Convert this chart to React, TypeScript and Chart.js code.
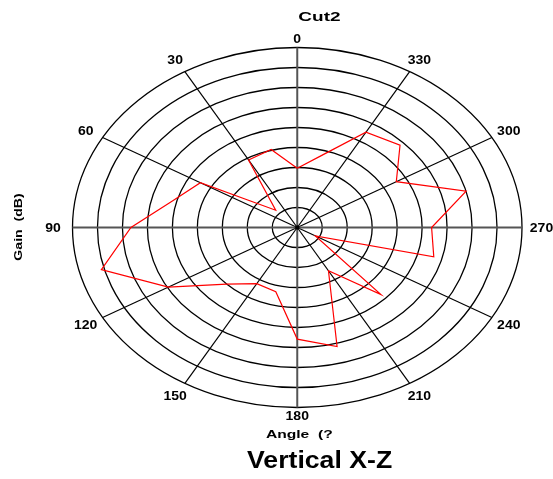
import React, { useEffect, useRef } from "react";
import { Chart, registerables } from "chart.js";

Chart.register(...registerables);

// ---- data ----
const angleDeg = [0, 15, 30, 45, 60, 75, 90, 105, 120, 135, 150, 165, 180, 195, 210, 225, 240, 255, 270, 285, 300, 315, 330, 345];
const gainDb = [-30.2, -24.8, -25.5, -38.9, -22.6, -19.2, -11.7, -4.4, -15.2, -25.0, -28.8, -28.4, -17.1, -14.2, -32.5, -21.3, -40.8, -16.7, -18.1, -10.0, -22.1, -15.9, -17.5, -26.4];
const radialMin = -45;
const radialMax = 0;
const radialStep = 5;
const spokeAngles = [0, 30, 60, 90, 120, 150, 180, 210, 240, 270, 300, 330];
const spokeLabels = ["0", "30", "60", "90", "120", "150", "180", "210", "240", "270", "300", "330"];
const chartTitle = "Cut2";
const angleAxisTitle = "Angle  (?";
const gainAxisTitle = "Gain  (dB)";
const caption = "Vertical X-Z";

const FONT = '"Liberation Sans", Arial, Helvetica, sans-serif';

function drawText(ctx: CanvasRenderingContext2D, text: string, x: number, y: number, size: number, sx: number, rot = 0) {
  ctx.save();
  ctx.translate(x, y);
  ctx.rotate(rot);
  ctx.scale(sx, 1);
  ctx.font = `bold ${size}px ${FONT}`;
  ctx.fillStyle = "#000";
  ctx.textAlign = "center";
  ctx.textBaseline = "alphabetic";
  ctx.fillText(text, 0, 0.358 * size);
  ctx.restore();
}

const polarGridPlugin = {
  id: "polarGrid",
  beforeDatasetsDraw(chart: any) {
    const ctx: CanvasRenderingContext2D = chart.ctx;
    const xs = chart.scales.x;
    const ys = chart.scales.y;
    const cx = xs.getPixelForValue(0);
    const cy = ys.getPixelForValue(0);
    const R = radialMax - radialMin;
    ctx.save();
    // rings
    ctx.strokeStyle = "#000";
    ctx.lineWidth = 1.3;
    for (let v = radialMin + radialStep; v <= radialMax + 1e-9; v += radialStep) {
      const r = v - radialMin;
      const rx = xs.getPixelForValue(r) - cx;
      const ry = cy - ys.getPixelForValue(r);
      ctx.beginPath();
      ctx.ellipse(cx, cy, rx, ry, 0, 0, Math.PI * 2);
      ctx.stroke();
    }
    // diagonal spokes
    ctx.lineWidth = 1.2;
    spokeAngles.forEach((a) => {
      if (a % 90 === 0) return;
      const t = (a * Math.PI) / 180;
      ctx.beginPath();
      ctx.moveTo(cx, cy);
      ctx.lineTo(xs.getPixelForValue(-R * Math.sin(t)), ys.getPixelForValue(R * Math.cos(t)));
      ctx.stroke();
    });
    // main axes
    ctx.strokeStyle = "#555";
    ctx.lineWidth = 2;
    ctx.beginPath();
    ctx.moveTo(xs.getPixelForValue(-R), cy);
    ctx.lineTo(xs.getPixelForValue(R), cy);
    ctx.moveTo(cx, ys.getPixelForValue(R));
    ctx.lineTo(cx, ys.getPixelForValue(-R));
    ctx.stroke();
    ctx.fillStyle = "#000";
    ctx.beginPath();
    ctx.arc(cx, cy, 2.2, 0, Math.PI * 2);
    ctx.fill();
    ctx.restore();
  },
  afterDraw(chart: any) {
    const ctx: CanvasRenderingContext2D = chart.ctx;
    const xs = chart.scales.x;
    const ys = chart.scales.y;
    const cx = xs.getPixelForValue(0);
    const cy = ys.getPixelForValue(0);
    const R = radialMax - radialMin;
    const a = xs.getPixelForValue(R) - cx;
    const b = cy - ys.getPixelForValue(R);
    spokeAngles.forEach((deg, i) => {
      const t = (deg * Math.PI) / 180;
      const s = Math.sin(t);
      const c = Math.cos(t);
      const lx = cx - (a + 19.5) * s;
      const ly = cy - (Math.abs(s) < 0.01 ? b + 8.5 : b + 14.3) * c;
      drawText(ctx, spokeLabels[i], lx, ly, 12.5, 1.12);
    });
    drawText(ctx, chartTitle, 319.5, 15.8, 13.5, 1.41);
    drawText(ctx, angleAxisTitle, 299.3, 433.7, 11, 1.42);
    drawText(ctx, gainAxisTitle, 18, 227, 11, 1.28, -Math.PI / 2);
    drawText(ctx, caption, 319.6, 459.4, 24, 1.11);
  },
};

export default function App() {
  const ref = useRef<HTMLCanvasElement | null>(null);
  useEffect(() => {
    if (!ref.current) return;
    const R = radialMax - radialMin;
    const pts = angleDeg.map((d, i) => {
      const t = (d * Math.PI) / 180;
      const r = gainDb[i] - radialMin;
      return { x: -r * Math.sin(t), y: r * Math.cos(t) };
    });
    pts.push({ ...pts[0] });
    const chart = new Chart(ref.current, {
      type: "scatter",
      data: {
        datasets: [
          {
            data: pts,
            showLine: true,
            borderColor: "#ff0000",
            backgroundColor: "#ff0000",
            borderWidth: 1.2,
            pointRadius: 0,
            fill: false,
            tension: 0,
          },
        ],
      },
      options: {
        animation: false,
        responsive: false,
        devicePixelRatio: 1,
        layout: { padding: { left: 72.5, right: 31, top: 47.5, bottom: 71.5 } },
        scales: {
          x: { type: "linear", min: -R, max: R, display: false },
          y: { type: "linear", min: -R, max: R, display: false },
        },
        plugins: { legend: { display: false }, tooltip: { enabled: false }, title: { display: false } },
      },
      plugins: [polarGridPlugin],
    } as any);
    return () => chart.destroy();
  }, []);
  return (
    <div style={{ position: "absolute", left: 0, top: 0, width: 553, height: 479, background: "#fff" }}>
      <canvas ref={ref} width={553} height={479} style={{ width: 553, height: 479, display: "block" }} />
    </div>
  );
}
